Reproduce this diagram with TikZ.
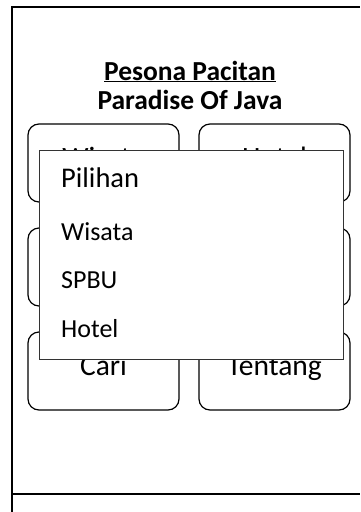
\documentclass[tikz,border=0pt]{standalone}
\usepackage{fontspec}
\setmainfont{Carlito}
\begin{document}
\begin{tikzpicture}[x=1pt,y=-1pt,
  frame/.style={line width=2pt},
  tile/.style={draw, line width=1.2pt, rounded corners=11pt, inner sep=0pt,
    minimum width=151pt, minimum height=78pt},
  tilelabel/.style={anchor=base, inner sep=0pt, font=\fontsize{29.5}{31}\selectfont},
  title/.style={anchor=base, inner sep=0pt, font=\bfseries\fontsize{27.5}{29}\selectfont},
  popup/.style={draw=black!80, line width=1.3pt, fill=white, inner sep=0pt,
    anchor=north west, minimum width=304pt, minimum height=209pt},
  heading/.style={anchor=base west, inner sep=0pt, font=\fontsize{28.5}{30}\selectfont},
  entry/.style={anchor=base west, inner sep=0pt, font=\fontsize{26}{28}\selectfont}
]
\useasboundingbox (0,0) rectangle (360,512);

% phone frame
\draw[frame] (12,512) -- (12,7) -- (360,7);
\draw[frame] (12,494) -- (360,494);

% app title
\node[title] (t1) at (190,80) {\underline{Pesona Pacitan}};
\node[title] (t2) at (190,109) {Paradise Of Java};

% menu tiles
\node[tile] (b1) at (103.5,163) {};
\node[tile] (b2) at (274.5,163) {};
\node[tile] (b3) at (103.5,267) {};
\node[tile] (b4) at (274.5,267) {};
\node[tile] (b5) at (103.5,371) {};
\node[tile] (b6) at (274.5,371) {};
\node[tilelabel] (l1) at (103.5,167) {Wisata};
\node[tilelabel] (l2) at (274.5,167) {Hotel};
\node[tilelabel] (l5) at (103.5,375) {Cari};
\node[tilelabel] (l6) at (274.5,375) {Tentang};

% selection popup
\node[popup] (pop) at (39,150) {};
\node[heading] (p0) at (61,187) {Pilihan};
\node[entry] (p1) at (61,240) {Wisata};
\node[entry] (p2) at (61,288) {SPBU};
\node[entry] (p3) at (61,337) {Hotel};
\end{tikzpicture}
\end{document}
